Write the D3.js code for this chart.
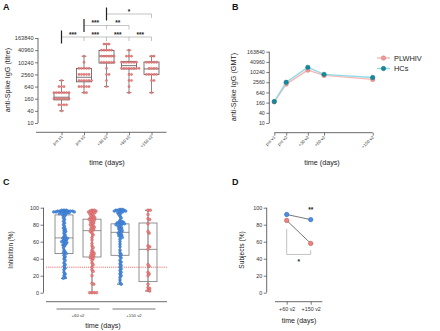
<!DOCTYPE html>
<html>
<head>
<meta charset="utf-8">
<script src="https://cdn.jsdelivr.net/npm/d3@7"></script>
<style>
  body { margin: 0; background: #fff; }
  svg { display: block; font-family: "Liberation Sans", Arial, sans-serif; }
</style>
</head>
<body>
<svg width="440" height="331"></svg>
<script>
// ---------- data ----------
// panel A: anti-Spike IgG titres of PLWHIV, counts per dilution
const groupsA = ['pre v1', 'pre v2', '+30 v2', '+60 v2', '+150 v2'];
const dilutions = [40, 80, 160, 320, 640, 1280, 2560, 5120, 10240, 20480, 40960, 81920];
const countsPreV1 = [1, 4, 7, 7, 3, 1, 0, 0, 0, 0, 0, 0];
const countsPreV2 = [0, 0, 0, 2, 5, 6, 5, 5, 1, 1, 0, 0];
const counts30 = [0, 0, 0, 0, 1, 1, 2, 1, 6, 6, 5, 3];
const counts60 = [0, 0, 0, 1, 1, 2, 2, 8, 7, 3, 1, 0];
const counts150 = [0, 0, 0, 1, 0, 2, 5, 4, 5, 2, 0, 0];
// box stats: q1, median, q3
const q1A = [140, 1100, 9400, 4800, 2550];
const medA = [190, 1850, 21000, 7000, 4800];
const q3A = [320, 5100, 39000, 11000, 10600];
const ticksA = [10, 40, 160, 640, 2560, 10240, 40960, 163840];
const bracketsA = [
  {from: 0, to: [1, 2, 3, 4], y: 37, labels: ['***', '***', '***', '***']},
  {from: 1, to: [2, 3], y: 25.5, labels: ['***', '**']},
  {from: 2, to: [4], y: 14, labels: ['*']}
];

// panel B: GMT over time
const daysB = [0, 22, 62, 92, 182];
const gmtPLWHIV = [180, 2000, 13400, 6500, 3800];
const loPLWHIV = [150, 1650, 10800, 5400, 2900];
const hiPLWHIV = [215, 2450, 16600, 7800, 5000];
const gmtHC = [185, 2550, 19500, 7500, 4900];
const loHC = [160, 2150, 16500, 6400, 4100];
const hiHC = [215, 3050, 23500, 8800, 5900];

// panel C: inhibition (%)
const hc60 = [97, 97, 97, 96, 96, 96, 96, 96, 95, 95, 95, 95, 95, 94, 94, 94, 93, 93, 92, 91, 90, 88, 86, 84, 82,
  80, 78, 76, 75, 73, 72, 70, 68, 66, 65, 64, 64, 63, 62, 61, 60, 60, 59, 58, 57, 56, 55, 53, 50, 48, 47, 46,
  44, 42, 40, 38, 35, 33, 31, 29, 27, 24, 22, 20, 18, 17];
const pl60 = [97, 97, 96, 96, 95, 95, 94, 94, 93, 92, 91, 90, 89, 88, 88, 87, 86, 86, 85, 84, 83, 82, 81, 80,
  79, 78, 77, 76, 75, 74, 73, 72, 70, 68, 65, 62, 58, 55, 53, 50, 48, 47, 46, 45, 44, 43, 42, 41, 40, 38, 35,
  33, 30, 27, 25, 20, 11, 10, 0, 0, 0, 0];
const hc150 = [98, 98, 97, 97, 97, 96, 96, 96, 95, 95, 94, 93, 92, 90, 88, 85, 84, 83, 83, 82, 82, 81, 81, 80,
  80, 79, 78, 77, 76, 75, 74, 73, 72, 71, 70, 69, 68, 67, 66, 65, 63, 60, 57, 54, 50, 47, 45, 43, 41, 38, 36,
  34, 32, 30, 28, 26, 24, 22, 20, 18, 15, 12, 10];
const pl150 = [97, 97, 92, 87, 86, 81, 72, 70, 55, 54, 51, 33, 31, 24, 22, 20, 10, 6, 5, 3, 2];
const q1C = [46, 42, 44, 13];
const medC = [64.5, 73, 71, 51];
const q3C = [91.5, 86.5, 81, 82];
const threshold = 30;

// panel D: responders (%)
const timesD = ['+60 v2', '+150 v2'];
const subjHC = [92, 86];
const subjPL = [85, 58];

// ---------- styles ----------
const red = '#e98585', redEdge = '#c44f4f';
const blue = '#4b8fe2', blueEdge = '#2b66b5';
const teal = '#148b9c', tealLine = '#93d9e6';
const pink = '#ef9a96', pinkLine = '#f6b9b6';
const ink = '#222';

const svg = d3.select('svg');
svg.append('rect').attr('width', 440).attr('height', 331).attr('fill', '#fff');

// simple deterministic beeswarm, gap = allowed centre distance
function swarm(values, y, gap, cx0) {
  const placed = [];
  return values.map(v => {
    const cy = y(v);
    let k = 0, cx;
    while (true) {
      const off = k === 0 ? 0 : Math.ceil(k / 2) * (k % 2 ? 1 : -1) * gap * 0.3;
      cx = cx0 + off;
      if (placed.every(p => (p.x - cx) ** 2 + (p.y - cy) ** 2 >= gap ** 2)) break;
      k++;
    }
    placed.push({x: cx, y: cy});
    return {v, x: cx, y: cy};
  });
}

function letter(x, y, t) {
  svg.append('text').attr('x', x).attr('y', y).text(t)
    .attr('font-size', 9).attr('font-weight', 'bold').attr('fill', '#111');
}

function styleAxis(g, fs) {
  g.select('.domain').remove();
  g.selectAll('line').attr('stroke', '#444').attr('stroke-width', 0.7);
  g.selectAll('text').attr('font-size', fs).attr('fill', '#333').attr('font-family', null);
}

function yTitle(x, y, t, fs) {
  svg.append('text').attr('transform', `translate(${x},${y}) rotate(-90)`)
    .attr('text-anchor', 'middle').attr('font-size', fs).attr('fill', ink).text(t);
}

function xTitle(x, y, fs) {
  svg.append('text').attr('x', x).attr('y', y).attr('text-anchor', 'middle')
    .attr('font-size', fs).attr('fill', ink).text('time (days)');
}

function line(x1, y1, x2, y2, col, w) {
  return svg.append('line').attr('x1', x1).attr('y1', y1).attr('x2', x2).attr('y2', y2)
    .attr('stroke', col).attr('stroke-width', w);
}

// ================= PANEL A =================
letter(3, 10, 'A');
const yA = d3.scaleLog().base(2).domain([10, 163840]).range([123, 38]);
const xA = d3.scalePoint().domain(groupsA).range([61.5, 151.5]);
const countsA = [countsPreV1, countsPreV2, counts30, counts60, counts150];

const gAy = svg.append('g').attr('transform', 'translate(38,0)')
  .call(d3.axisLeft(yA).tickValues(ticksA).tickFormat(d3.format('d')).tickSize(3).tickPadding(1.5));
styleAxis(gAy, 5.6);
line(38, 38, 38, 123, '#444', 0.8);

const gAx = svg.append('g').attr('transform', 'translate(0,132.3)')
  .call(d3.axisBottom(xA).tickSize(3).tickFormat(''));
styleAxis(gAx, 4.5);
line(36, 132.3, 166.5, 132.3, '#444', 0.8);
svg.append('g').selectAll('text').data(groupsA).join('text')
  .attr('transform', d => `translate(${xA(d) + 1.5},137) rotate(-45)`)
  .attr('text-anchor', 'end').attr('font-size', 4.3).attr('fill', '#333').text(d => d);

yTitle(10, 80, 'anti-Spike IgG (titre)', 7.2);
xTitle(107, 164.5, 7.2);

groupsA.forEach((g, i) => {
  const vals = dilutions.flatMap((d, j) => Array(countsA[i][j]).fill(d));
  const cx = xA(g), hw = 7.5;
  const lo = d3.min(vals), hi = d3.max(vals);
  line(cx, yA(hi), cx, yA(q3A[i]), '#555', 0.7);
  line(cx, yA(q1A[i]), cx, yA(lo), '#555', 0.7);
  line(cx - 2.5, yA(hi), cx + 2.5, yA(hi), '#555', 0.7);
  line(cx - 2.5, yA(lo), cx + 2.5, yA(lo), '#555', 0.7);
  svg.append('rect').attr('x', cx - hw).attr('width', hw * 2)
    .attr('y', yA(q3A[i])).attr('height', yA(q1A[i]) - yA(q3A[i]))
    .attr('fill', 'none').attr('stroke', '#555').attr('stroke-width', 0.8);
  line(cx - hw, yA(medA[i]), cx + hw, yA(medA[i]), '#555', 0.8);
  svg.append('g').selectAll('circle').data(swarm(vals, yA, 2.1, cx)).join('circle')
    .attr('cx', d => d.x).attr('cy', d => d.y).attr('r', 1.1)
    .attr('fill', red).attr('stroke', redEdge).attr('stroke-width', 0.4);
});

// significance brackets
bracketsA.forEach(b => {
  const x0 = xA(groupsA[b.from]);
  const xs = b.to.map(t => xA(groupsA[t]));
  line(x0, b.y, xs[xs.length - 1], b.y, '#aaa', 0.7);
  xs.forEach(x => line(x, b.y, x, b.y + 4, '#aaa', 0.7));
  line(x0, b.y - 6.5, x0, b.y + 6.5, '#222', 1.2);
  [x0].concat(xs).slice(0, -1).forEach((x, k) => {
    svg.append('text').attr('x', (x + xs[k]) / 2).attr('y', b.y - 0.5)
      .attr('text-anchor', 'middle').attr('font-size', 6.5).attr('font-weight', 'bold')
      .attr('fill', '#222').text(b.labels[k]);
  });
});

// ================= PANEL B =================
letter(232, 10, 'B');
const yB = d3.scaleLog().base(2).domain([10, 163840]).range([123, 51.7]);
const xB = d3.scaleLinear().domain([0, 182]).range([274.3, 372.7]);

const gBy = svg.append('g').attr('transform', 'translate(269.3,0)')
  .call(d3.axisLeft(yB).tickValues(ticksA).tickFormat(d3.format('d')).tickSize(3).tickPadding(1.5));
styleAxis(gBy, 5.3);
line(269.3, 51.7, 269.3, 123, '#444', 0.8);

const gBx = svg.append('g').attr('transform', 'translate(0,132.7)')
  .call(d3.axisBottom(xB).tickValues(daysB).tickSize(3).tickFormat(''));
styleAxis(gBx, 4.5);
line(274.3, 132.7, 372.7, 132.7, '#444', 0.8);
svg.append('g').selectAll('text').data(daysB).join('text')
  .attr('transform', (d, i) => `translate(${xB(d) + 1.5},137.5) rotate(-45)`)
  .attr('text-anchor', 'end').attr('font-size', 4.3).attr('fill', '#333').text((d, i) => groupsA[i]);

yTitle(236, 87, 'anti-Spike IgG (GMT)', 7.2);
xTitle(322, 164.5, 7.2);

const seriesB = [
  {name: 'PLWHIV', gmt: gmtPLWHIV, lo: loPLWHIV, hi: hiPLWHIV, fill: pink, edge: '#d9706b', ln: pinkLine},
  {name: 'HCs', gmt: gmtHC, lo: loHC, hi: hiHC, fill: teal, edge: '#0d6f7d', ln: tealLine}
];
const lineB = d3.line().x((d, i) => xB(daysB[i])).y(d => yB(d));
seriesB.forEach((s, si) => {
  const g = svg.append('g');
  g.append('path').attr('d', lineB(s.gmt)).attr('fill', 'none')
    .attr('stroke', s.ln).attr('stroke-width', 1.4);
  daysB.forEach((d, i) => {
    const x = xB(d);
    g.append('line').attr('x1', x).attr('x2', x).attr('y1', yB(s.lo[i])).attr('y2', yB(s.hi[i]))
      .attr('stroke', s.ln).attr('stroke-width', 0.8);
    [s.lo[i], s.hi[i]].forEach(v => g.append('line').attr('x1', x - 1.5).attr('x2', x + 1.5)
      .attr('y1', yB(v)).attr('y2', yB(v)).attr('stroke', s.ln).attr('stroke-width', 0.8));
  });
  g.selectAll('circle').data(s.gmt).join('circle')
    .attr('cx', (d, i) => xB(daysB[i])).attr('cy', d => yB(d)).attr('r', 2.2)
    .attr('fill', s.fill).attr('stroke', s.edge).attr('stroke-width', 0.5);
  // legend
  const ly = 58 + si * 10.5;
  g.append('line').attr('x1', 377).attr('x2', 390).attr('y1', ly).attr('y2', ly)
    .attr('stroke', s.ln).attr('stroke-width', 1.4);
  g.append('circle').attr('cx', 383.5).attr('cy', ly).attr('r', 2.2)
    .attr('fill', s.fill).attr('stroke', s.edge).attr('stroke-width', 0.5);
  g.append('text').attr('x', 394).attr('y', ly + 2.6).attr('font-size', 7.4)
    .attr('fill', ink).text(s.name);
});

// ================= PANEL C =================
letter(3, 185, 'C');
const yC = d3.scaleLinear().domain([0, 100]).range([292.7, 207.7]);
const boxesC = [
  {vals: hc60, fill: blue, edge: blueEdge},
  {vals: pl60, fill: red, edge: redEdge},
  {vals: hc150, fill: blue, edge: blueEdge},
  {vals: pl150, fill: red, edge: redEdge}
];
const xC = d3.scalePoint().domain(d3.range(4)).range([64, 148]);

const gCy = svg.append('g').attr('transform', 'translate(43.5,0)')
  .call(d3.axisLeft(yC).tickValues([0, 20, 40, 60, 80, 100]).tickSize(3).tickPadding(1.5));
styleAxis(gCy, 5.4);
line(43.5, 207.7, 43.5, 292.7, '#444', 0.8);
yTitle(13, 250, 'Inhibition (%)', 6.4);

line(46, 301.7, 167, 301.7, '#444', 0.8);
timesD.forEach((t, k) => {
  const cx = (xC(2 * k) + xC(2 * k + 1)) / 2;
  line(cx - 21.5, 309, cx + 21.5, 309, '#555', 0.8);
  svg.append('text').attr('x', cx).attr('y', 316.5).attr('text-anchor', 'middle')
    .attr('font-size', 4.3).attr('fill', '#333').text(t);
});
xTitle(103, 327.5, 7.2);

line(46, yC(threshold), 167, yC(threshold), '#e25050', 0.8).attr('stroke-dasharray', '1.2,0.9');

boxesC.forEach((b, i) => {
  const cx = xC(i), hw = 9;
  const lo = d3.min(b.vals), hi = d3.max(b.vals);
  line(cx, yC(hi), cx, yC(lo), '#444', 0.8);
  line(cx - 3, yC(hi), cx + 3, yC(hi), '#444', 0.8);
  line(cx - 3, yC(lo), cx + 3, yC(lo), '#444', 0.8);
  svg.append('rect').attr('x', cx - hw).attr('width', hw * 2)
    .attr('y', yC(q3C[i])).attr('height', yC(q1C[i]) - yC(q3C[i]))
    .attr('fill', 'none').attr('stroke', '#777').attr('stroke-width', 0.8);
  line(cx - hw, yC(medC[i]), cx + hw, yC(medC[i]), '#777', 0.8);
  svg.append('g').selectAll('circle').data(swarm(b.vals, yC, 1.9, cx)).join('circle')
    .attr('cx', d => d.x).attr('cy', d => d.y).attr('r', 1.4)
    .attr('fill', b.fill).attr('stroke', b.edge).attr('stroke-width', 0.4);
});

// ================= PANEL D =================
letter(232, 185, 'D');
const yD = d3.scaleLinear().domain([0, 100]).range([292.7, 207.7]);
const xD = d3.scalePoint().domain(timesD).range([286.7, 310.7]);

const gDy = svg.append('g').attr('transform', 'translate(266.7,0)')
  .call(d3.axisLeft(yD).tickValues([0, 20, 40, 60, 80, 100]).tickSize(3).tickPadding(1.5));
styleAxis(gDy, 5.4);
line(266.7, 207.7, 266.7, 292.7, '#444', 0.8);
yTitle(243.5, 250, 'Subjects (%)', 6.6);

const gDx = svg.append('g').attr('transform', 'translate(0,301.7)')
  .call(d3.axisBottom(xD).tickSize(3).tickPadding(2.5));
styleAxis(gDx, 5.4);
line(275, 301.7, 322.3, 301.7, '#444', 0.8);
xTitle(299, 323, 7);

// bracket for PLWHIV +60 vs +150
const bx0 = xD(timesD[0]), bx1 = xD(timesD[1]);
svg.append('path').attr('d', `M${bx0},${yD(75)}V${yD(45)}H${bx1}V${yD(50)}`)
  .attr('fill', 'none').attr('stroke', '#bbb').attr('stroke-width', 0.9);
svg.append('text').attr('x', (bx0 + bx1) / 2).attr('y', yD(33.5)).attr('text-anchor', 'middle')
  .attr('font-size', 6.5).attr('font-weight', 'bold').attr('fill', '#222').text('*');
svg.append('text').attr('x', bx1).attr('y', yD(94.5)).attr('text-anchor', 'middle')
  .attr('font-size', 6.5).attr('font-weight', 'bold').attr('fill', '#222').text('**');

[{v: subjHC, fill: blue, edge: blueEdge}, {v: subjPL, fill: red, edge: redEdge}].forEach(s => {
  svg.append('path').attr('d', d3.line().x((d, i) => xD(timesD[i])).y(d => yD(d))(s.v))
    .attr('fill', 'none').attr('stroke', '#555').attr('stroke-width', 0.8);
  svg.append('g').selectAll('circle').data(s.v).join('circle')
    .attr('cx', (d, i) => xD(timesD[i])).attr('cy', d => yD(d)).attr('r', 2.2)
    .attr('fill', s.fill).attr('stroke', s.edge).attr('stroke-width', 0.6);
});
</script>
</body>
</html>
